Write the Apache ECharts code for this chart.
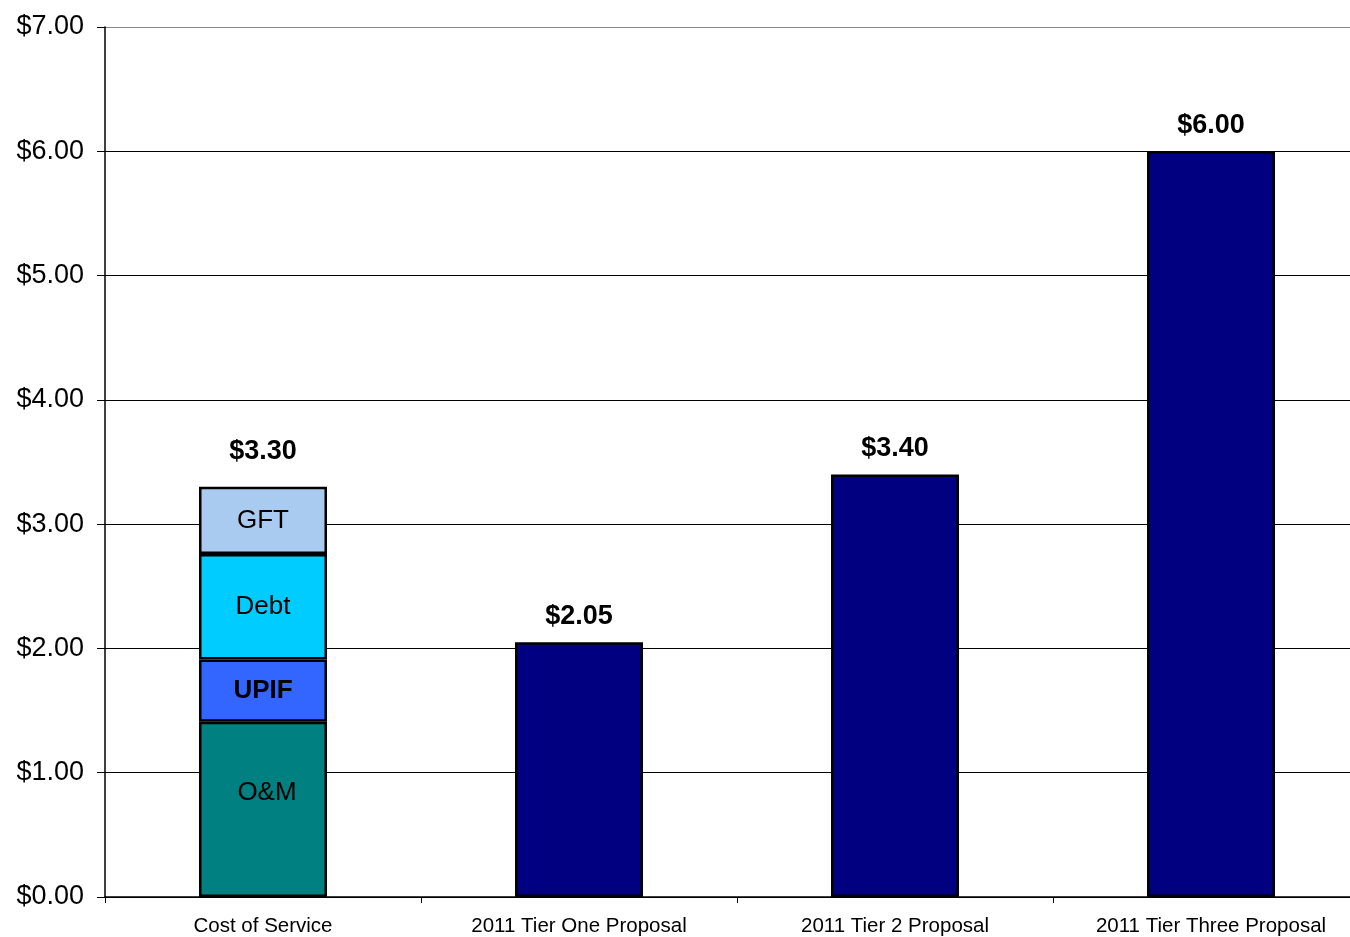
<!DOCTYPE html>
<html>
<head>
<meta charset="utf-8">
<script src="https://cdn.jsdelivr.net/npm/echarts@6/dist/echarts.min.js"></script>
<style>
html,body{margin:0;padding:0;background:#fff;overflow:hidden;}
#chart{width:1369px;height:937px;}
</style>
</head>
<body>
<div id="chart"></div>
<script>
var categories = ['Cost of Service', '2011 Tier One Proposal', '2011 Tier 2 Proposal', '2011 Tier Three Proposal'];
var omData = [1.41, '-', '-', '-'];
var upifData = [0.50, '-', '-', '-'];
var debtData = [0.85, '-', '-', '-'];
var gftData = [0.54, '-', '-', '-'];
var tierData = ['-', 2.05, 3.40, 6.00];
var costTotal = 3.30;

var chart = echarts.init(document.getElementById('chart'));

var inner = {
    show: true,
    position: 'inside',
    color: '#000',
    fontFamily: 'Liberation Sans',
    fontSize: 26
};

function part(name, data, color, extra){
    return {
        name: name,
        type: 'bar',
        stack: 'total',
        barWidth: '40.5%',
        data: data,
        itemStyle: {color: color, borderColor: '#000', borderWidth: 2.5},
        label: Object.assign({}, inner, {formatter: name}, extra || {})
    };
}

chart.setOption({
    animation: false,
    grid: {left: 105, right: 0, top: 27, bottom: 40},
    xAxis: {
        type: 'category',
        data: categories,
        axisLine: {lineStyle: {color: '#000', width: 1.5}},
        axisTick: {show: true, length: 6, lineStyle: {color: '#000'}},
        axisLabel: {color: '#000', fontFamily: 'Liberation Sans', fontSize: 20.5, margin: 19}
    },
    yAxis: {
        type: 'value',
        min: 0,
        max: 7,
        interval: 1,
        axisLine: {show: true, lineStyle: {color: '#000', width: 1.5}},
        axisTick: {show: true, length: 8, lineStyle: {color: '#000'}},
        axisLabel: {
            color: '#000', fontFamily: 'Liberation Sans', fontSize: 27, margin: 21,
            formatter: function(v){ return '$' + v.toFixed(2); }
        },
        splitLine: {lineStyle: {color: ['#000', '#000', '#000', '#000', '#000', '#000', '#000', '#888'], width: 1}}
    },
    series: [
        part('O&M', omData, '#008080', {offset: [4, -17]}),
        part('UPIF', upifData, '#3366ff', {fontWeight: 'bold'}),
        part('Debt', debtData, '#00ccff'),
        Object.assign(part('GFT', gftData, '#a9cbef'), {
            markPoint: {
                symbol: 'rect',
                symbolSize: 1,
                itemStyle: {color: 'rgba(0,0,0,0)'},
                label: {
                    show: true, position: 'top', distance: 21,
                    color: '#000', fontFamily: 'Liberation Sans', fontSize: 27, fontWeight: 'bold',
                    formatter: '$' + costTotal.toFixed(2)
                },
                data: [{coord: [0, costTotal]}]
            }
        }),
        {
            name: 'Tier',
            type: 'bar',
            stack: 'total',
            barWidth: '40.5%',
            data: tierData,
            itemStyle: {color: '#000080', borderColor: '#000', borderWidth: 2.5},
            label: {
                show: true, position: 'top', distance: 12,
                color: '#000', fontFamily: 'Liberation Sans', fontSize: 27, fontWeight: 'bold',
                formatter: function(p){ return '$' + p.value.toFixed(2); }
            }
        }
    ]
});
</script>
</body>
</html>
